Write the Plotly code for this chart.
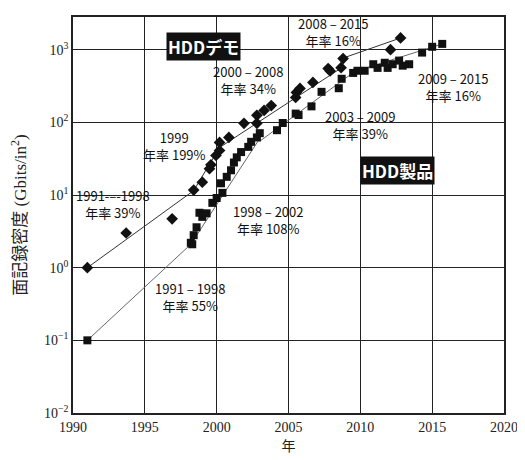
import plotly.graph_objects as go

# HDD demo (diamonds)
demo_year = [1991, 1993.7, 1996.9, 1998.4, 1999.0, 1999.5, 1999.6, 1999.95, 2000.2, 2000.2,
             2000.85, 2001.9, 2002.8, 2002.8, 2003.3, 2003.8, 2005.5, 2005.55, 2005.8, 2006.7,
             2007.76, 2007.9, 2008.66, 2008.8, 2012.1, 2012.8]
demo_val = [1.0, 3.0, 4.7, 11.7, 15, 23, 26, 35, 41, 53,
            62, 97, 97, 125, 146, 170, 220, 258, 293, 355,
            550, 510, 565, 755, 1000, 1450]

# HDD products (squares)
prod_year = [1991, 1998.2, 1998.3, 1998.4, 1998.6, 1998.8, 1999.0, 1999.3, 1999.7, 2000.0,
             2000.4, 2000.3, 2000.7, 2001.0, 2001.2, 2001.4, 2001.7, 2002.2, 2002.4, 2002.8,
             2003.0, 2004.2, 2004.6, 2005.5, 2005.7, 2006.6, 2007.3, 2008.5, 2008.7, 2009.5,
             2009.8, 2010.3, 2010.9, 2011.2, 2011.7, 2011.9, 2012.25, 2012.7, 2012.95, 2013.4,
             2014.3, 2015.0, 2015.7]
prod_val = [0.1, 2.2, 2.1, 2.8, 3.6, 5.7, 5.0, 5.6, 7.8, 9.1,
            10.7, 14.5, 17.8, 21.9, 28, 33, 39, 46, 54, 62,
            71, 78, 98, 132, 126, 166, 263, 295, 398, 479,
            513, 513, 631, 562, 661, 562, 631, 708, 603, 631,
            912, 1096, 1202]

# trend segments
demo_trend_x = [[1991, 1998.4], [1998.4, 2000.2], [2000.2, 2008.7], [2008.7, 2012.8]]
demo_trend_y = [[1.0, 11.5], [11.5, 45], [45, 565], [755, 1450]]
prod_trend_x = [[1991, 1998.2], [1998.2, 2003.0], [2003.0, 2009.6], [2009.6, 2015.7]]
prod_trend_y = [[0.1, 2.1], [2.1, 60], [55, 500], [500, 1200]]

ann_text = ["2008 – 2015<br>年率 16%", "2000 – 2008<br>年率 34%", "1999<br>年率 199%",
            "1991-–-1998<br>年率 39%", "1998 – 2002<br>年率 108%", "1991 – 1998<br>年率 55%",
            "2003 – 2009<br>年率 39%", "2009 – 2015<br>年率 16%"]
ann_x = [2008.1, 2002.2, 1997.05, 1992.8, 2003.6, 1998.2, 2010.0, 2016.5]
ann_logy = [3.25, 2.58, 1.68, 0.88, 0.66, -0.41, 1.97, 2.48]

label_text = ["HDDデモ", "HDD製品"]
label_x = [1999.05, 2012.6]
label_logy = [3.05, 1.34]

y_tickvals = [0.01, 0.1, 1, 10, 100, 1000]
y_ticktext = ["10<sup>−2</sup>", "10<sup>−1</sup>", "10<sup>0</sup>", "10<sup>1</sup>",
              "10<sup>2</sup>", "10<sup>3</sup>"]
x_tickvals = [1990, 1995, 2000, 2005, 2010, 2015, 2020]

fig = go.Figure()
for xs, ys in zip(demo_trend_x, demo_trend_y):
    fig.add_trace(go.Scatter(x=xs, y=ys, mode="lines", line=dict(color="#333", width=1),
                             showlegend=False, hoverinfo="skip"))
for xs, ys in zip(prod_trend_x, prod_trend_y):
    fig.add_trace(go.Scatter(x=xs, y=ys, mode="lines", line=dict(color="#666", width=1),
                             showlegend=False, hoverinfo="skip"))
fig.add_trace(go.Scatter(x=demo_year, y=demo_val, mode="markers",
                         marker=dict(symbol="diamond", size=9, color="#111"), showlegend=False))
fig.add_trace(go.Scatter(x=prod_year, y=prod_val, mode="markers",
                         marker=dict(symbol="square", size=8, color="#111"), showlegend=False))

font_jp = "Noto Sans CJK JP"
for t, x, y in zip(ann_text, ann_x, ann_logy):
    fig.add_annotation(x=x, y=y, text=t, showarrow=False, xanchor="center", yanchor="middle",
                       font=dict(family=font_jp, size=13, color="#111"))

for t, x, y in zip(label_text, label_x, label_logy):
    fig.add_annotation(x=x, y=y, text="<b>" + t + "</b>", showarrow=False,
                       bgcolor="#111", borderpad=1,
                       font=dict(family=font_jp, size=17, color="white"))

fig.update_xaxes(range=[1990, 2020], tickvals=x_tickvals, showgrid=True, gridcolor="#222",
                 gridwidth=1, showline=True, linecolor="#222", linewidth=1.5, mirror=True,
                 ticks="", zeroline=False,
                 tickfont=dict(family="Liberation Serif", size=14, color="#222"),
                 title=dict(text="年", font=dict(family=font_jp, size=14, color="#222"), standoff=0))
fig.update_yaxes(type="log", range=[-2, 3.45], tickvals=y_tickvals, ticktext=y_ticktext,
                 showgrid=True, gridcolor="#222", gridwidth=1, showline=True, linecolor="#222",
                 linewidth=1.5, mirror=True, ticks="", zeroline=False,
                 tickfont=dict(family="Liberation Serif", size=14, color="#222"),
                 title=dict(text="面記録密度 (Gbits/in<sup>2</sup>)",
                            font=dict(family="Liberation Serif, Noto Sans CJK JP", size=17, color="#222"),
                            standoff=17))
# page body adds an 8px offset; compensate so the plot area lands where the reference has it
fig.update_layout(width=517, height=452, margin=dict(l=65, r=18, t=7, b=47),
                  paper_bgcolor="white", plot_bgcolor="white")
fig.write_html("out.html")
